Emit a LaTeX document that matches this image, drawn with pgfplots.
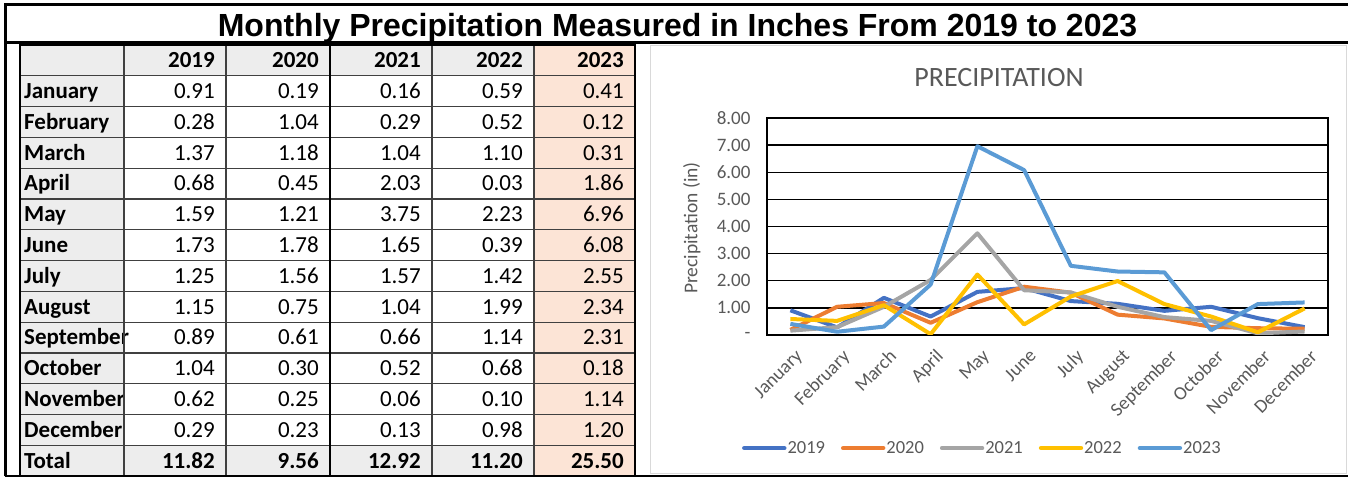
\documentclass[border=0pt]{standalone}
\usepackage{fontspec}
\setmainfont{Carlito}
\newfontfamily\arialfont{Liberation Sans}
\usepackage{pgfplots}
\usepackage{pgfplotstable}
\pgfplotsset{compat=1.18}
\definecolor{cA}{HTML}{4472C4}
\definecolor{cB}{HTML}{ED7D31}
\definecolor{cC}{HTML}{A5A5A5}
\definecolor{cD}{HTML}{FFC000}
\definecolor{cE}{HTML}{5B9BD5}
\definecolor{tickgray}{HTML}{595959}
\definecolor{cellgray}{HTML}{EDEDED}
\definecolor{peach}{HTML}{FCE4D6}
\definecolor{panelborder}{HTML}{D9D9D9}

\pgfplotstableread{
month y2019 y2020 y2021 y2022 y2023
January 0.91 0.19 0.16 0.59 0.41
February 0.28 1.04 0.29 0.52 0.12
March 1.37 1.18 1.04 1.10 0.31
April 0.68 0.45 2.03 0.03 1.86
May 1.59 1.21 3.75 2.23 6.96
June 1.73 1.78 1.65 0.39 6.08
July 1.25 1.56 1.57 1.42 2.55
August 1.15 0.75 1.04 1.99 2.34
September 0.89 0.61 0.66 1.14 2.31
October 1.04 0.30 0.52 0.68 0.18
November 0.62 0.25 0.06 0.10 1.14
December 0.29 0.23 0.13 0.98 1.20
}\datatable

\begin{document}
\begin{tikzpicture}
\useasboundingbox (0bp,0bp) rectangle (1348bp,478bp);
\begin{scope}[x=1bp,y=-1bp,shift={(0bp,478bp)}]
% cell fills
\fill[cellgray] (20,45) rectangle (124,476);
\fill[cellgray] (124,45) rectangle (534,75.8);
\fill[cellgray] (124,445.2) rectangle (534,476);
\fill[peach] (534,45) rectangle (635,476);
% chart panel
\draw[panelborder, line width=1bp] (650.5,45.5) rectangle (1346.5,474);
% title
\node[font=\arialfont\bfseries\fontsize{32bp}{36bp}\selectfont, anchor=base, inner sep=0] at (677.5,37) {Monthly Precipitation Measured in Inches From 2019 to 2023};
% table text
\begin{scope}[font=\fontsize{23bp}{26bp}\selectfont]
\foreach \h/\xr in {2019/215,2020/319,2021/421,2022/523,2023/624}{
  \node[anchor=base east, inner sep=0] at (\xr,67.8) {\bfseries\h};
}
\foreach \r in {0,...,11}{
  \pgfmathsetmacro\yb{45+30.8*(\r+1)+22.8}
  \pgfplotstablegetelem{\r}{month}\of\datatable
  \node[anchor=base west, inner sep=0] at (24,\yb) {\bfseries\pgfplotsretval};
  \foreach \c/\xr in {y2019/215,y2020/319,y2021/421,y2022/523,y2023/624}{
    \pgfplotstablegetelem{\r}{\c}\of\datatable
    \node[anchor=base east, inner sep=0] at (\xr,\yb) {\pgfplotsretval};
  }
}
\foreach \t/\xr in {11.82/215,9.56/319,12.92/421,11.20/523,25.50/624}{
  \node[anchor=base east, inner sep=0] at (\xr,468.4) {\bfseries\t};
}
\node[anchor=base west, inner sep=0] at (24,468.4) {\bfseries Total};
\end{scope}
% cover overflow of label column text
\fill[white] (124.6,106) rectangle (125.6,106);
% table lines
\foreach \i in {1,...,13}{
  \draw[black!75, line width=1.1bp] (20,{45+30.8*\i}) -- (635,{45+30.8*\i});
}
\foreach \xv in {124,226,432,534}{
  \draw[black!75, line width=1.1bp] (\xv,45) -- (\xv,476);
}
\draw[black, line width=1.8bp] (330,45) -- (330,476);
\draw[black, line width=2bp] (20,45) rectangle (635,476);
% outer frame
\draw[black, line width=2.2bp] (5.5,476.5) -- (5.5,4.5) -- (1348,4.5);
\draw[black, line width=2.6bp] (5.5,42.5) -- (1348,42.5);
\draw[black, line width=2bp] (5.5,476.5) -- (1348,476.5);
\end{scope}

\begin{axis}[
  at={(767bp,143bp)}, anchor=south west,
  scale only axis, width=561bp, height=217bp,
  xmin=-0.5, xmax=11.5, ymin=0, ymax=8,
  xtick={0,...,11},
  xticklabels from table={\datatable}{month},
  ytick={0,...,8},
  yticklabels={-\hspace{10bp},1.00,2.00,3.00,4.00,5.00,6.00,7.00,8.00},
  /pgf/number format/assume math mode=true,
  ymajorgrids,
  grid style={black, line width=1.4bp},
  axis line style={black, line width=1.4bp},
  major tick length=0pt,
  tick label style={font=\fontsize{19bp}{22bp}\selectfont, text=tickgray},
  yticklabel style={xshift=-13bp},
  xticklabel style={rotate=45, anchor=north east, xshift=-3bp, yshift=-9bp},
  ylabel={Precipitation (in)},
  ylabel style={at={(axis description cs:-0.134,0.493)}, anchor=center, rotate=0, font=\fontsize{19.5bp}{22bp}\selectfont, text=tickgray},
  title={PRECIPITATION},
  title style={at={(axis description cs:0.4135,1.16)}, anchor=center, font=\fontsize{28bp}{32bp}\selectfont, text=tickgray},
  legend columns=5,
  legend style={at={(axis description cs:0.383,-0.521)}, anchor=center, draw=none, fill=none,
    font=\fontsize{18.5bp}{21bp}\selectfont, text=tickgray,
    nodes={inner xsep=1bp, inner ysep=2bp},
    /tikz/every even column/.append style={column sep=15bp}},
  legend image code/.code={\draw[#1, line width=4.4bp, line cap=round] (0bp,0bp) -- (40bp,0bp);},
  every axis plot/.append style={line width=4bp, line join=round, no markers},
]
\addplot[cA] table[x expr=\coordindex, y=y2019] {\datatable};
\addplot[cB] table[x expr=\coordindex, y=y2020] {\datatable};
\addplot[cC] table[x expr=\coordindex, y=y2021] {\datatable};
\addplot[cD] table[x expr=\coordindex, y=y2022] {\datatable};
\addplot[cE] table[x expr=\coordindex, y=y2023] {\datatable};
\legend{2019,2020,2021,2022,2023}
\end{axis}
\end{tikzpicture}
\end{document}
